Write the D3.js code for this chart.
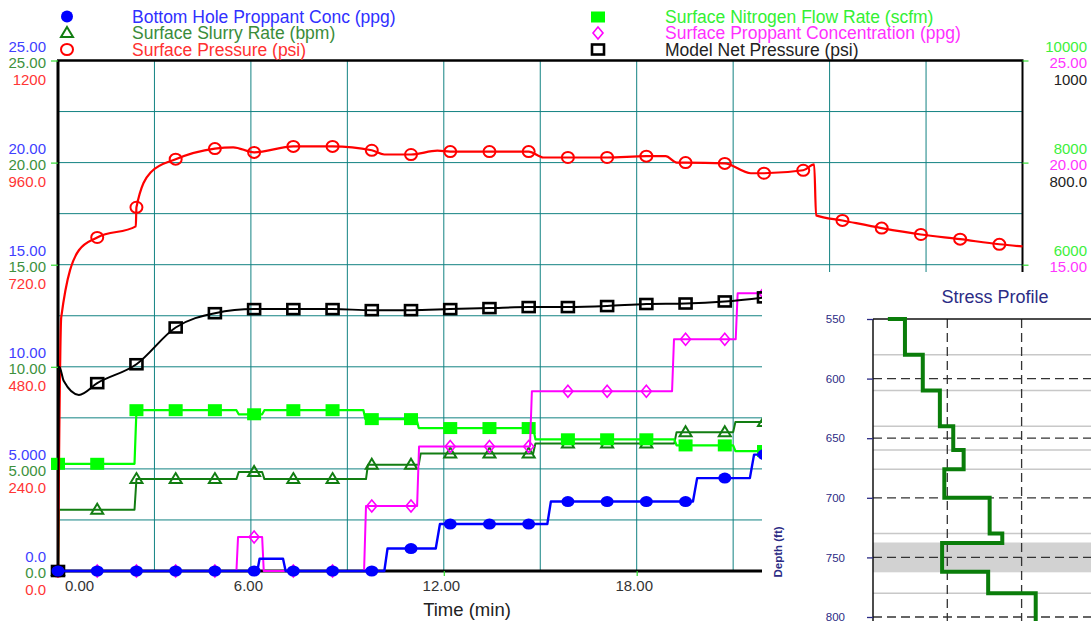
<!DOCTYPE html>
<html>
<head>
<meta charset="utf-8">
<script src="https://cdn.jsdelivr.net/npm/d3@7"></script>
<style>
  body { margin: 0; background: #fff; }
  svg { display: block; font-family: "Liberation Sans", Arial, sans-serif; }
</style>
</head>
<body>
<svg id="chart" width="1091" height="621"></svg>
<script>
// ---- Treatment data (time in minutes) ----
const markerTimes = [0, 1.22, 2.44, 3.66, 4.88, 6.10, 7.32, 8.54, 9.76, 10.98, 12.20, 13.42,
  14.64, 15.86, 17.08, 18.30, 19.52, 20.74, 21.96, 23.18, 24.40, 25.62, 26.84, 28.06, 29.28];

// Bottom hole proppant concentration (ppg)
const bottomHoleConc = [[0,0],[6.20,0],[6.27,0.6],[7.00,0.6],[7.08,0],[10.15,0],[10.25,1.1],[11.75,1.1],
  [11.88,2.3],[15.22,2.3],[15.33,3.4],[19.75,3.4],[19.88,4.55],[21.52,4.55],[21.65,5.7],[22.2,5.7]];

// Surface slurry rate (bpm)
const slurryRate = [[0,0],[0.03,3.0],[2.38,3.0],[2.44,4.5],[5.55,4.5],[5.62,4.85],[6.35,4.85],[6.42,4.5],
  [9.58,4.5],[9.64,5.2],[11.22,5.2],[11.28,5.75],[14.78,5.75],[14.85,6.25],[19.17,6.25],[19.24,6.8],
  [21.00,6.8],[21.07,7.3],[22.2,7.3]];

// Surface pressure (psi)
const surfacePressure = [[0,0],[0.10,596],[0.65,754],[1.22,784],[2.42,810],[2.44,855],[2.88,937],[3.66,968],
  [4.88,993],[5.45,996],[6.10,984],[7.32,998],[8.54,998],[9.76,989],[10.15,979],[10.98,979],[11.80,988],
  [12.20,986],[13.42,986],[14.64,986],[15.10,972],[15.86,972],[17.08,972],[18.30,975],[18.90,975],
  [19.25,960],[19.52,960],[20.74,958],[21.55,935],[21.96,935],[23.18,942],[23.52,956],[23.58,836],
  [24.40,824],[25.62,806],[26.84,791],[28.06,780],[29.28,768],[30,763]];

// Surface nitrogen flow rate (scfm)
const nitrogenRate = [[0,2100],[2.38,2100],[2.44,3150],[5.55,3150],[5.62,3070],[6.35,3070],[6.42,3150],
  [9.50,3150],[9.56,2975],[11.15,2975],[11.22,2800],[14.78,2800],[14.85,2580],[19.17,2580],[19.24,2460],
  [21.00,2460],[21.07,2350],[22.2,2350]];

// Surface proppant concentration (ppg)
const surfacePropConc = [[0,0],[5.55,0],[5.60,1.66],[6.35,1.66],[6.40,0],[9.52,0],[9.58,3.18],[11.17,3.18],
  [11.23,6.1],[14.68,6.1],[14.74,8.8],[19.10,8.8],[19.16,11.35],[21.08,11.35],[21.14,13.6],[22.2,13.6]];

// Model net pressure (psi)
const netPressure = [[0,0],[0.04,400],[0.18,372],[0.65,345],[1.22,368],[2.44,405],[3.66,477],[4.88,505],
  [6.10,513],[7.32,513],[8.54,513],[9.76,511],[10.98,511],[12.20,513],[13.42,515],[14.64,517],[15.86,517],
  [17.08,519],[18.30,523],[19.52,524],[20.74,528],[21.96,536]];

// ---- Axis ticks and labels ----
const gridTimes = [3, 6, 9, 12, 15, 18, 21, 24, 27];
const gridConc = [2.5, 5, 7.5, 10, 12.5, 15, 17.5, 20, 22.5];
const timeTicks = [0, 6, 12, 18, 24];
const timeTickLabels = ["0.00", "6.00", "12.00", "18.00", "24.00"];
const concTicks = [0, 5, 10, 15, 20, 25];
const concTickLabels = ["0.0", "5.000", "10.00", "15.00", "20.00", "25.00"];
const rateTickLabels = ["0.0", "5.000", "10.00", "15.00", "20.00", "25.00"];
const pressTickLabels = ["0.0", "240.0", "480.0", "720.0", "960.0", "1200"];
const n2TickLabels = ["0", "2000", "4000", "6000", "8000", "10000"];
const propTickLabels = ["0.0", "5.000", "10.00", "15.00", "20.00", "25.00"];
const netTickLabels = ["0.0", "200.0", "400.0", "600.0", "800.0", "1000"];

// ---- Stress profile (depth in ft, stress in psi) ----
const profileStart = [420, 550];
const layerTops = [550, 580, 610, 640, 660, 676, 700, 730, 738, 762, 780];
const layerBottoms = [580, 610, 640, 660, 676, 700, 730, 738, 762, 780, 810];
const layerStress = [443, 467, 490, 508, 522, 496, 557, 574, 493, 555, 619];
const boundaryDepths = [580, 610, 640, 660, 676, 730, 780];
const perfBand = [737.5, 762.5];
const depthTicks = [550, 600, 650, 700, 750, 800];
const stressGrid = [500, 600];

// ---- Layout ----
const svg = d3.select("#chart");
const P = { left: 58, right: 1022.5, top: 60.5, bottom: 571 };

const x = d3.scaleLinear().domain([0, 30]).range([P.left, P.right]);
const yConc = d3.scaleLinear().domain([0, 25]).range([P.bottom, P.top]);
const yPress = d3.scaleLinear().domain([0, 1200]).range([P.bottom, P.top]);
const yN2 = d3.scaleLinear().domain([0, 10000]).range([P.bottom, P.top]);
const yNet = d3.scaleLinear().domain([0, 1000]).range([P.bottom, P.top]);

const COL = {
  blue: "#0000ff", dgreen: "#127d12", red: "#ff0000", lime: "#00ff00", magenta: "#ff00ff", black: "#000",
  grid: "#128282", navy: "#2b2b85"
};

// grid
const grid = svg.append("g").attr("stroke", COL.grid).attr("stroke-width", 1);
grid.selectAll("line.v").data(gridTimes).join("line")
  .attr("x1", d => x(d)).attr("x2", d => x(d)).attr("y1", P.top).attr("y2", P.bottom);
grid.selectAll("line.h").data(gridConc).join("line")
  .attr("x1", P.left).attr("x2", P.right).attr("y1", d => yConc(d)).attr("y2", d => yConc(d));

// frame
const frame = svg.append("g").attr("stroke", "#000");
frame.append("line").attr("x1", P.left - 1).attr("x2", P.right + 1).attr("y1", P.top).attr("y2", P.top).attr("stroke-width", 2.5);
frame.append("line").attr("x1", P.left).attr("x2", P.left).attr("y1", P.top).attr("y2", P.bottom + 1).attr("stroke-width", 3);
frame.append("line").attr("x1", P.right).attr("x2", P.right).attr("y1", P.top).attr("y2", P.bottom).attr("stroke-width", 2);
frame.append("line").attr("x1", P.left).attr("x2", P.right).attr("y1", P.bottom).attr("y2", P.bottom).attr("stroke-width", 3);

// stacked axis labels (three quantities share each gridline)
function stackedAxis(axisFn, xPos, labels, color, dy, tickLen) {
  const g = svg.append("g").attr("transform", `translate(${xPos},0)`)
    .call(axisFn(yConc).tickValues(concTicks).tickFormat((d, i) => labels[i]).tickSize(tickLen).tickPadding(0));
  g.select(".domain").remove();
  g.selectAll(".tick line").attr("stroke", "#33dd33").attr("stroke-width", 1.2);
  g.selectAll(".tick text").attr("fill", color).attr("font-size", 15)
    .attr("font-family", "'Liberation Sans', Arial, sans-serif")
    .attr("text-anchor", "end").attr("dy", null).attr("dominant-baseline", "central")
    .attr("x", axisFn === d3.axisLeft ? -12 : 64.5).attr("y", dy);
  return g;
}
stackedAxis(d3.axisLeft, P.left, concTickLabels, "#4040ff", -15, 0);
stackedAxis(d3.axisLeft, P.left, rateTickLabels, "#3d913d", 1, 7);
stackedAxis(d3.axisLeft, P.left, pressTickLabels, "#ff3535", 18, 0);
stackedAxis(d3.axisRight, P.right, n2TickLabels, "#3cf03c", -15, 0);
stackedAxis(d3.axisRight, P.right, propTickLabels, "#ff35ff", 1, 6);
stackedAxis(d3.axisRight, P.right, netTickLabels, "#222", 18, 0);

// time axis
const tAxis = svg.append("g").attr("transform", `translate(0,${P.bottom})`)
  .call(d3.axisBottom(x).tickValues(timeTicks).tickFormat((d, i) => timeTickLabels[i]).tickSize(5).tickPadding(4));
tAxis.select(".domain").remove();
tAxis.selectAll(".tick line").attr("stroke", "#33dd33").attr("stroke-width", 1.2);
tAxis.selectAll(".tick text").attr("fill", "#333").attr("font-size", 15)
  .attr("font-family", "'Liberation Sans', Arial, sans-serif")
  .attr("dx", d => d === 0 ? 21 : -3);
svg.append("text").attr("x", 467).attr("y", 609).attr("text-anchor", "middle")
  .attr("dominant-baseline", "central").attr("font-size", 18.5).attr("fill", "#222").text("Time (min)");

// ---- series ----
function valueAt(series, t) {
  let v = series[0][1];
  for (const [ti, vi] of series) { if (ti <= t + 1e-9) v = vi; else break; }
  return v;
}
const marks = {
  dot: (g, cx, cy, c) => g.append("ellipse").attr("cx", cx).attr("cy", cy).attr("rx", 6.5).attr("ry", 5.5).attr("fill", c),
  ring: (g, cx, cy, c) => g.append("ellipse").attr("cx", cx).attr("cy", cy).attr("rx", 6).attr("ry", 5.5)
    .attr("fill", "none").attr("stroke", c).attr("stroke-width", 2),
  tri: (g, cx, cy, c) => g.append("path").attr("d", `M${cx},${cy - 6}L${cx + 6},${cy + 4}L${cx - 6},${cy + 4}Z`)
    .attr("fill", "none").attr("stroke", c).attr("stroke-width", 2),
  block: (g, cx, cy, c) => g.append("rect").attr("x", cx - 7).attr("y", cy - 6).attr("width", 14).attr("height", 12).attr("fill", c),
  diamond: (g, cx, cy, c) => g.append("path").attr("d", `M${cx},${cy - 6}L${cx + 5},${cy}L${cx},${cy + 6}L${cx - 5},${cy}Z`)
    .attr("fill", "none").attr("stroke", c).attr("stroke-width", 1.6),
  box: (g, cx, cy, c) => g.append("rect").attr("x", cx - 6).attr("y", cy - 5).attr("width", 12).attr("height", 10)
    .attr("fill", "none").attr("stroke", c).attr("stroke-width", 2.6)
};

const seriesList = [
  { data: slurryRate, y: yConc, color: COL.dgreen, width: 2, mark: "tri", curve: d3.curveLinear },
  { data: nitrogenRate, y: yN2, color: COL.lime, width: 2.2, mark: "block", curve: d3.curveLinear },
  { data: surfacePropConc, y: yConc, color: COL.magenta, width: 2, mark: "diamond", curve: d3.curveLinear },
  { data: surfacePressure, y: yPress, color: COL.red, width: 2.2, mark: "ring", curve: d3.curveMonotoneX },
  { data: netPressure, y: yNet, color: COL.black, width: 2, mark: "box", curve: d3.curveMonotoneX },
  { data: bottomHoleConc, y: yConc, color: COL.blue, width: 2.4, mark: "dot", curve: d3.curveLinear }
];

const seriesG = svg.append("g");
seriesList.forEach(s => {
  const g = seriesG.append("g");
  g.append("path").datum(s.data)
    .attr("fill", "none").attr("stroke", s.color).attr("stroke-width", s.width).attr("stroke-linejoin", "round")
    .attr("d", d3.line().x(d => x(d[0])).y(d => s.y(d[1])).curve(s.curve));
  const tEnd = s.data[s.data.length - 1][0];
  markerTimes.filter(t => t <= tEnd).forEach(t => {
    marks[s.mark](g, x(t), s.y(valueAt(s.data, t)), s.color);
  });
});

// ---- legend ----
const legendLeft = [
  { mark: "dot", color: COL.blue, text: "Bottom Hole Proppant Conc (ppg)", tcol: "#3030ff" },
  { mark: "tri", color: COL.dgreen, text: "Surface Slurry Rate (bpm)", tcol: "#3a8c3a" },
  { mark: "ring", color: COL.red, text: "Surface Pressure (psi)", tcol: "#ff3030" }
];
const legendRight = [
  { mark: "block", color: COL.lime, text: "Surface Nitrogen Flow Rate (scfm)", tcol: "#33f033" },
  { mark: "diamond", color: COL.magenta, text: "Surface Proppant Concentration (ppg)", tcol: "#ff30ff" },
  { mark: "box", color: COL.black, text: "Model Net Pressure (psi)", tcol: "#222" }
];
const legendRows = [16.5, 33, 49.5];
function drawLegend(items, mx, tx) {
  const g = svg.append("g");
  items.forEach((it, i) => {
    const cy = legendRows[i];
    if (it.mark === "block") g.append("rect").attr("x", mx - 7).attr("y", cy - 5).attr("width", 14).attr("height", 11).attr("fill", it.color);
    else if (it.mark === "dot") g.append("ellipse").attr("cx", mx).attr("cy", cy).attr("rx", 6).attr("ry", 6).attr("fill", it.color);
    else marks[it.mark](g, mx, cy, it.color);
    g.append("text").attr("x", tx).attr("y", cy).attr("dominant-baseline", "central")
      .attr("font-size", 17.5).attr("fill", it.tcol).text(it.text);
  });
}
drawLegend(legendLeft, 67, 132);
drawLegend(legendRight, 598, 665);

// ---- stress profile inset ----
const inset = { x: 762, y: 272, w: 329, h: 349 };
svg.append("defs").append("clipPath").attr("id", "insetClip")
  .append("rect").attr("x", inset.x).attr("y", inset.y).attr("width", inset.w).attr("height", inset.h);
const ins = svg.append("g").attr("clip-path", "url(#insetClip)");
ins.append("rect").attr("x", inset.x).attr("y", inset.y).attr("width", inset.w).attr("height", inset.h).attr("fill", "#fff");

const sx = d3.scaleLinear().domain([400, 700]).range([873, 1095.9]);
const sy = d3.scaleLinear().domain([550, 800]).range([319, 617]);

ins.append("text").attr("x", 995).attr("y", 297).attr("text-anchor", "middle").attr("dominant-baseline", "central")
  .attr("font-size", 18).attr("fill", COL.navy).text("Stress Profile");

ins.append("rect").attr("x", sx(400)).attr("y", sy(perfBand[0])).attr("width", 240)
  .attr("height", sy(perfBand[1]) - sy(perfBand[0])).attr("fill", "#d2d2d2");

ins.selectAll("line.bd").data(boundaryDepths).join("line")
  .attr("x1", sx(400)).attr("x2", 1091).attr("y1", d => sy(d)).attr("y2", d => sy(d))
  .attr("stroke", "#c8c8c8").attr("stroke-width", 1.5);

ins.selectAll("line.hd").data(depthTicks.slice(1)).join("line")
  .attr("x1", sx(400)).attr("x2", 1091).attr("y1", d => sy(d)).attr("y2", d => sy(d))
  .attr("stroke", "#333").attr("stroke-width", 1.3).attr("stroke-dasharray", "9,5");
ins.selectAll("line.vd").data(stressGrid).join("line")
  .attr("x1", d => sx(d)).attr("x2", d => sx(d)).attr("y1", sy(550)).attr("y2", 621)
  .attr("stroke", "#333").attr("stroke-width", 1.3).attr("stroke-dasharray", "9,5");

ins.append("line").attr("x1", sx(400)).attr("x2", 1091).attr("y1", sy(550)).attr("y2", sy(550)).attr("stroke", "#111").attr("stroke-width", 1.5);
ins.append("line").attr("x1", sx(400)).attr("x2", sx(400)).attr("y1", sy(550)).attr("y2", 621).attr("stroke", "#111").attr("stroke-width", 1.5);

const dAxis = ins.append("g").attr("transform", `translate(${sx(400)},0)`)
  .call(d3.axisLeft(sy).tickValues(depthTicks).tickFormat(d3.format("d")).tickSize(6).tickPadding(22));
dAxis.select(".domain").remove();
dAxis.selectAll(".tick line").attr("stroke", COL.navy).attr("stroke-width", 1.3);
dAxis.selectAll(".tick text").attr("fill", COL.navy).attr("font-size", 11.5)
  .attr("font-family", "'Liberation Sans', Arial, sans-serif");

ins.append("text").attr("transform", "translate(778,552) rotate(-90)").attr("text-anchor", "middle")
  .attr("dominant-baseline", "central").attr("font-size", 11.5).attr("font-weight", "bold")
  .attr("fill", COL.navy).text("Depth (ft)");

const profilePts = [profileStart];
layerTops.forEach((top, i) => {
  profilePts.push([layerStress[i], top]);
  profilePts.push([layerStress[i], layerBottoms[i]]);
});
ins.append("path").datum(profilePts)
  .attr("fill", "none").attr("stroke", "#0a7d0a").attr("stroke-width", 4).attr("stroke-linejoin", "miter")
  .attr("d", d3.line().x(d => sx(d[0])).y(d => sy(d[1])));
</script>
</body>
</html>
